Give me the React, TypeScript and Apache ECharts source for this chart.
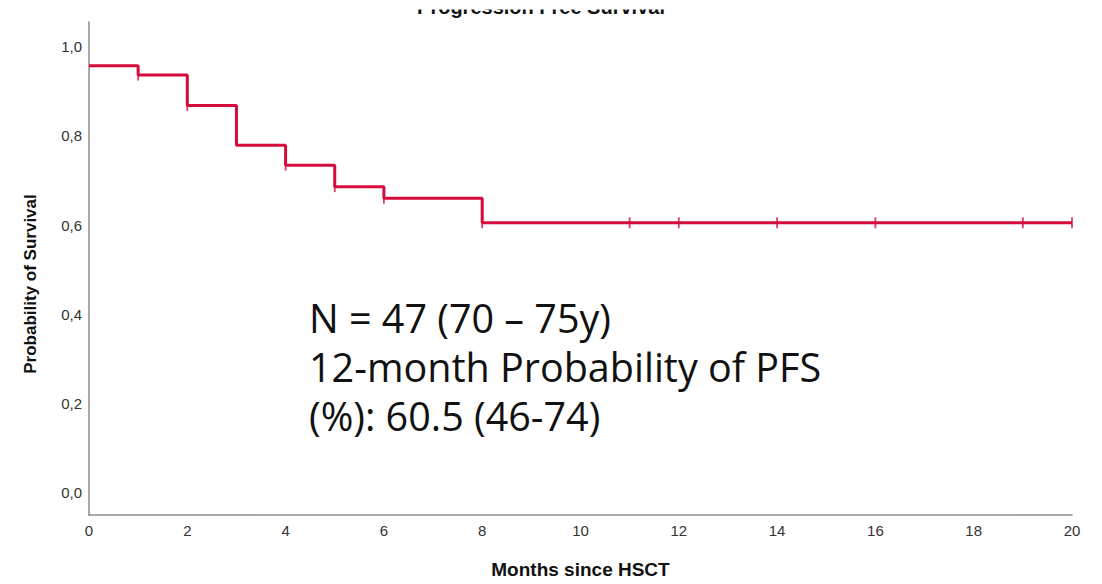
import React, { useEffect, useRef } from "react";
import * as echarts from "echarts";

// Kaplan–Meier step points: month of each drop and the survival level after it
const eventMonths = [0, 1, 2, 3, 4, 5, 6, 8, 20];
const survivalLevels = [0.957, 0.936, 0.868, 0.779, 0.734, 0.686, 0.66, 0.605, 0.605];

// Censored observations (months)
const censorMonths = [1, 2, 4, 5, 6, 8, 11, 12, 14, 16, 19, 20];

// Axis ticks
const xTickValues = [0, 2, 4, 6, 8, 10, 12, 14, 16, 18, 20];
const yTickValues = [0, 0.2, 0.4, 0.6, 0.8, 1.0];

const titleText = "Progression Free Survival";
const xAxisTitle = "Months since HSCT";
const yAxisTitle = "Probability of Survival";
const noteLines = ["N = 47 (70 – 75y)", "12-month Probability of PFS", "(%): 60.5 (46-74)"];

const RED = "#D50B3E";
const AXIS_FONT = "'Liberation Sans', Arial, sans-serif";

// survival level in effect at month t (last step at or before t)
function levelAt(t: number): number {
  let v = survivalLevels[0];
  for (let i = 0; i < eventMonths.length; i++) {
    if (eventMonths[i] <= t) v = survivalLevels[i];
  }
  return v;
}

export default function App() {
  const ref = useRef<HTMLDivElement>(null);

  useEffect(() => {
    if (!ref.current) return;
    const chart = echarts.init(ref.current, undefined, { renderer: "svg" });

    const stepData = eventMonths.map((m, i) => [m, survivalLevels[i]]);
    const censorData = censorMonths.map((m) => [m, levelAt(m)]);

    chart.setOption({
      animation: false,
      backgroundColor: "#ffffff",
      grid: { left: 89, right: 30, top: 22, bottom: 67, containLabel: false },
      xAxis: {
        type: "value",
        min: 0,
        max: 20,
        interval: 2,
        axisLine: { show: true, onZero: false, lineStyle: { color: "#8c8c8c", width: 1.5 } },
        axisTick: { show: false },
        splitLine: { show: false },
        axisLabel: {
          color: "#333",
          fontSize: 15,
          fontFamily: AXIS_FONT,
          margin: 8,
          customValues: xTickValues,
        },
        name: xAxisTitle,
        nameLocation: "middle",
        nameGap: 45,
        nameTextStyle: {
          color: "#111",
          fontSize: 19,
          fontWeight: "bold",
          fontFamily: AXIS_FONT,
        },
      },
      yAxis: {
        type: "value",
        min: -0.05,
        max: 1.055,
        axisLine: { show: true, onZero: false, lineStyle: { color: "#8c8c8c", width: 1.5 } },
        axisTick: { show: false },
        splitLine: { show: false },
        axisLabel: {
          color: "#333",
          fontSize: 15,
          fontFamily: AXIS_FONT,
          margin: 7,
          customValues: yTickValues,
          formatter: (v: number) => v.toFixed(1).replace(".", ","),
        },
      },
      series: [
        {
          type: "line",
          data: stepData,
          step: "end",
          showSymbol: false,
          lineStyle: { color: RED, width: 3 },
          z: 2,
        },
        {
          type: "scatter",
          data: censorData,
          symbol: "rect",
          symbolSize: [1.8, 11],
          itemStyle: { color: RED },
          z: 3,
        },
      ],
      graphic: [
        {
          type: "text",
          x: 541,
          y: 17,
          style: {
            text: titleText,
            align: "center",
            verticalAlign: "bottom",
            fill: "#111",
            font: `bold 20px ${AXIS_FONT}`,
          },
          z: 10,
        },
        {
          type: "rect",
          shape: { x: 380, y: 0, width: 330, height: 9.5 },
          style: { fill: "#ffffff" },
          z: 11,
        },
        {
          type: "text",
          x: 30,
          y: 284,
          rotation: Math.PI / 2,
          style: {
            text: yAxisTitle,
            align: "center",
            verticalAlign: "middle",
            fill: "#111",
            font: `bold 17px ${AXIS_FONT}`,
          },
          z: 10,
        },
        ...noteLines.map((line, i) => ({
          type: "text",
          x: 309,
          y: 318 + i * 49,
          style: {
            text: line,
            align: "left",
            verticalAlign: "middle",
            fill: "#111",
            font: `39.5px 'Open Sans', 'Noto Sans', sans-serif`,
          },
          z: 10,
        })),
      ],
    });

    return () => chart.dispose();
  }, []);

  return (
    <div
      ref={ref}
      style={{ position: "fixed", left: 0, top: 0, width: 1102, height: 584, background: "#fff" }}
    />
  );
}
